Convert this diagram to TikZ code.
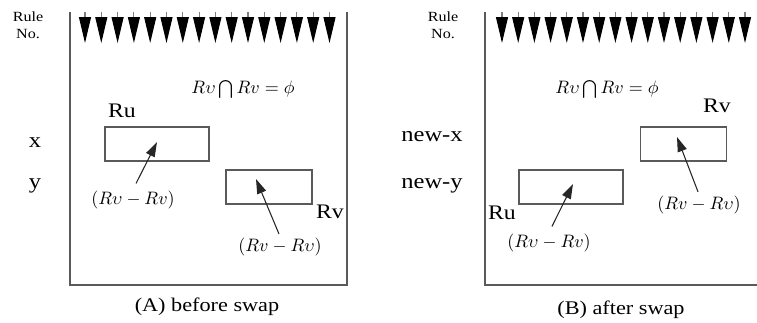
\documentclass[tikz,border=0pt]{standalone}
\usepackage{graphicx}
\usepackage{fontspec}
\setmainfont{Liberation Serif}[FakeStretch=1.15]
\usetikzlibrary{arrows.meta}
\definecolor{FrameGray}{HTML}{5A5A5A}
\definecolor{StemGray}{HTML}{808080}

\newcommand{\setmath}[1]{\scalebox{1.35}{$#1$}}

\tikzset{
  frameline/.style={draw=FrameGray,line width=1.3pt},
  rulearrow/.style={StemGray,line width=0.8pt,-{Triangle[length=19.5pt,width=9pt,black]}},
  regionbox/.style={draw=FrameGray,line width=0.9pt,inner sep=0pt,minimum height=25.5pt},
  regionname/.style={font=\fontsize{15.5}{17}\selectfont,inner sep=0pt},
  rowname/.style={font=\fontsize{16}{18}\selectfont,inner sep=0pt},
  setlabel/.style={font=\fontsize{10}{12}\selectfont,inner sep=1pt},
  pointer/.style={black!85,line width=0.8pt,-{Triangle[length=11pt,width=7pt]}},
  caption/.style={font=\fontsize{14.5}{17}\selectfont,inner sep=0pt},
  rulehead/.style={font=\fontsize{10.5}{12.5}\selectfont,align=center,inner sep=0pt},
}

\begin{document}
\begin{tikzpicture}[x=0.75pt,y=-0.75pt,line cap=butt,line join=miter]
  \useasboundingbox (0,0) rectangle (757,322);

  % (A) before swap
  \node[rulehead] (ruleA) at (28,25) {Rule\\No.};
  \draw[frameline] (70,12) -- (70,285) -- (347,285) -- (347,12);
  \foreach \i in {0,...,15}
    \draw[rulearrow] (85+16.3*\i,12) -- (85+16.3*\i,43);
  \node[setlabel] (emptyA) at (243,89) {\setmath{R\upsilon\textstyle\bigcap Rv=\phi}};
  \node[rowname] (rowxA) at (35,143) {x};
  \node[rowname] (rowyA) at (35,186) {y};
  \node[regionbox,minimum width=78pt] (boxuA) at (157,144) {};
  \node[regionbox,minimum width=64.5pt] (boxvA) at (269,187) {};
  \node[regionname] (nameuA) at (122,111) {Ru};
  \node[regionname] (namevA) at (330,212) {Rv};
  \coordinate (tipuA) at (157,142);
  \coordinate (tipvA) at (256,179);
  \node[setlabel] (diffuA) at (133,200) {\setmath{(R\upsilon-Rv)}};
  \node[setlabel] (diffvA) at (280,247) {\setmath{(Rv-R\upsilon)}};
  \draw[pointer,shorten <=5pt] (diffuA.north) -- (tipuA);
  \draw[pointer,shorten <=2pt] (diffvA.north) -- (tipvA);
  \node[caption] (capA) at (207,307) {(A) before swap};

  % (B) after swap
  \node[rulehead] (ruleB) at (443,25) {Rule\\No.};
  \draw[frameline] (485,12) -- (485,285) -- (757,285);
  \foreach \i in {0,...,15}
    \draw[rulearrow] (502+16.2*\i,12) -- (502+16.2*\i,43);
  \node[setlabel] (emptyB) at (607,89) {\setmath{R\upsilon\textstyle\bigcap Rv=\phi}};
  \node[rowname] (rowxB) at (432,137) {new-x};
  \node[rowname] (rowyB) at (432,186) {new-y};
  \node[regionbox,minimum width=65pt] (boxvB) at (683.5,144) {};
  \node[regionbox,minimum width=78pt] (boxuB) at (571,187) {};
  \node[regionname] (namevB) at (717,106) {Rv};
  \node[regionname] (nameuB) at (502,213) {Ru};
  \coordinate (tipuB) at (573,184);
  \coordinate (tipvB) at (677,137);
  \node[setlabel] (diffuB) at (549,243) {\setmath{(R\upsilon-Rv)}};
  \node[setlabel] (diffvB) at (699,205) {\setmath{(Rv-R\upsilon)}};
  \draw[pointer,shorten <=5pt] (diffuB.north) -- (tipuB);
  \draw[pointer,shorten <=2pt] (diffvB.north) -- (tipvB);
  \node[caption] (capB) at (621,310) {(B) after swap};
\end{tikzpicture}
\end{document}
